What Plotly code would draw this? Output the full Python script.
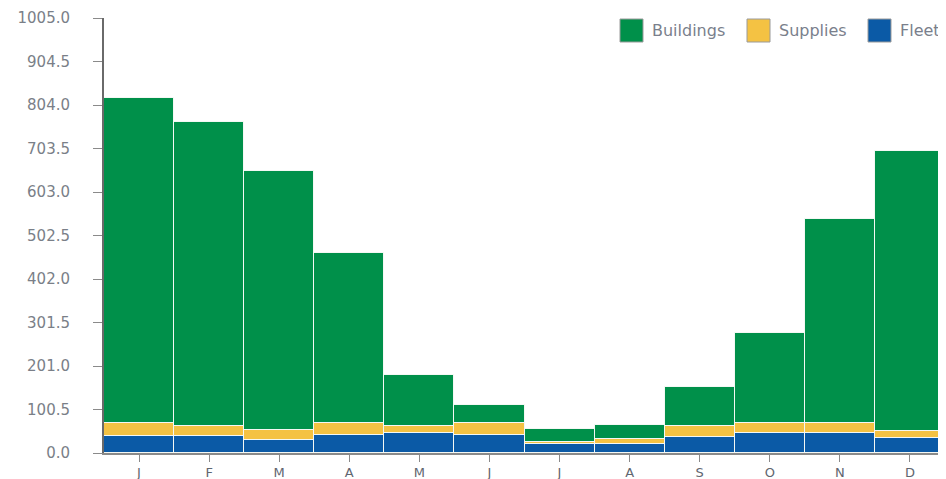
import plotly.graph_objects as go

months = ["J", "F", "M", "A", "M", "J", "J", "A", "S", "O", "N", "D"]
fleet = [40, 40, 31, 42, 46, 41, 20, 21, 38, 47, 47, 34]
supplies = [30, 22, 21, 27, 16, 29, 6, 12, 24, 23, 23, 17]
buildings = [750, 703, 600, 392, 118, 42, 29, 31, 90, 207, 471, 647]
ytick_vals = [0, 100.5, 201, 301.5, 402, 502.5, 603, 703.5, 804, 904.5, 1005]

series = [("Fleet", fleet, "#0b5aa6"),
          ("Supplies", supplies, "#f4c243"),
          ("Buildings", buildings, "#00904a")]

# the page body keeps an 8px default margin, so the figure is made 8px
# smaller and its margins are shifted to put the plot where the reference has it
OFF = 8
W, H = 946 - OFF, 479 - OFF
L, R, T, B = 104 - OFF, 1, 18 - OFF, 26
PW, PH = W - L - R, H - T - B

x = list(range(len(months)))

fig = go.Figure()
for name, vals, col in series:
    fig.add_trace(go.Bar(x=x, y=vals, name=name, showlegend=False,
                         marker=dict(color=col, line=dict(color="#f4f8f4", width=1.5))))

# custom legend (large square swatches), top right; screen x positions
legend_x = {"Buildings": 620, "Supplies": 747, "Fleet": 868}
shapes, annos = [], []
for name, vals, col in series:
    x0 = legend_x[name] - OFF
    shapes.append(dict(type="rect", xref="paper", yref="paper",
                       x0=(x0 - L) / PW, x1=(x0 + 23 - L) / PW,
                       y0=1 - (42 - OFF - T) / PH, y1=1 - (19 - OFF - T) / PH,
                       fillcolor=col, line=dict(color="#9a9a9a", width=1)))
    annos.append(dict(xref="paper", yref="paper", x=(x0 + 30 - L) / PW,
                      y=1 - (30 - OFF - T) / PH, xanchor="left", yanchor="middle",
                      text=name, showarrow=False,
                      font=dict(family="DejaVu Sans", size=16, color="#7a7f8c")))

fig.update_layout(
    width=W, height=H,
    barmode="stack", bargap=0,
    paper_bgcolor="white", plot_bgcolor="white",
    margin=dict(l=L, r=R, t=T, b=B, autoexpand=False),
    font=dict(family="DejaVu Sans", size=14, color="#7a7f88"),
    showlegend=False,
    shapes=shapes, annotations=annos,
    xaxis=dict(tickmode="array", tickvals=x, ticktext=months,
               range=[-0.5, 11.5], showgrid=False, automargin=False,
               showline=True, linecolor="#8a8a8a", linewidth=1.5,
               ticks="outside", ticklen=7, tickcolor="#8a8a8a",
               tickson="boundaries",
               tickfont=dict(size=13, color="#5f6670")),
    yaxis=dict(range=[0, 1005], tickmode="array", tickvals=ytick_vals,
               ticktext=[f"{v:.1f}" for v in ytick_vals],
               showgrid=False, zeroline=False, automargin=False,
               showline=True, linecolor="#6a6a6a", linewidth=2,
               ticks="outside", ticklen=9, tickcolor="#8a8a8a",
               ticklabelstandoff=20,
               tickfont=dict(size=15, color="#7a7f88")),
)

fig.write_html("out.html")
